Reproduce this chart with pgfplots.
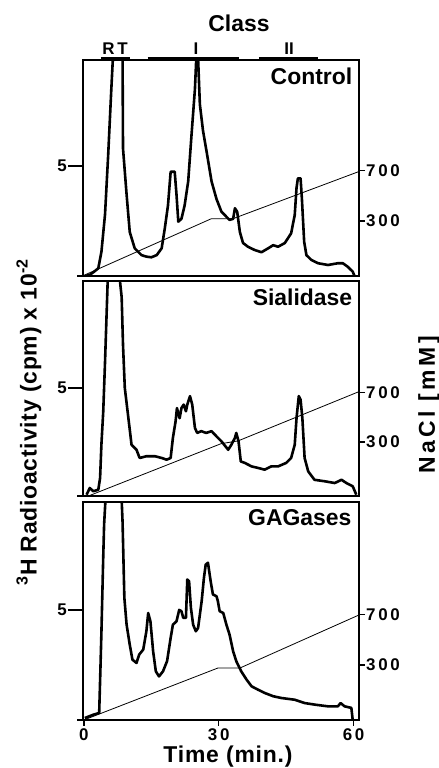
\documentclass[border=0pt]{standalone}
\usepackage{fontspec}
\setmainfont{Liberation Sans}
\newfontfamily\tickfam[LetterSpace=16]{Liberation Sans}
\newfontfamily\widefam[LetterSpace=15]{Liberation Sans}
\newfontfamily\looser[LetterSpace=3.5]{Liberation Sans}
\usepackage{pgfplots}
\pgfplotsset{compat=1.18}

\newcommand\lbl{\fontsize{23}{23}\selectfont\bfseries}
\newcommand\ticks{\tickfam\fontsize{17}{17}\selectfont\bfseries}

\pgfplotsset{
  base/.style={scale only axis, width=276bp, xmin=-0.2, xmax=61.2, ymin=0,
    axis line style={line width=1.2bp},
    tick style={line width=1.2bp, black},
    major tick length=6bp, tick align=outside,
    tick label style={font=\ticks, inner sep=1bp}},
  panel/.style={base, ytick pos=left, xtick pos=bottom,
    ytick={0}, yticklabels={}, xtick=\empty,
    extra y ticks={5}, extra y tick labels={5},
    extra y tick style={major tick length=15bp}},
  rpanel/.style={base, axis x line=none, axis y line*=right,
    ytick={2.5,4.78}, yticklabels={300,700}, clip=false},
  curve/.style={black, line width=2.6bp, line join=round, no marks},
  grad/.style={black, line width=0.8bp, no marks},
}

\begin{document}
\begin{tikzpicture}
\useasboundingbox (0,0) rectangle (439bp,768bp);

% ---- Control
\begin{axis}[panel, at={(83bp,492bp)}, height=216bp, ymax=9.82]
\addplot[curve] coordinates {
(0.3,0) (1.3,0.05) (2.3,0.2) (3.2,0.35) (3.9,1.1) (4.7,2.8) (5.4,5.5) (6.1,8.5)
(6.6,10.5) (7,13) (8.4,13) (8.6,10) (8.7,5.8) (9.5,3.7) (10.2,2.0) (11.3,1.26)
(12.8,0.95) (13.9,0.88) (15,0.85) (16.2,0.95) (17.3,1.26) (18,2.17) (18.7,3.2)
(19.3,4.74) (20.2,4.74) (20.6,3.7) (21.0,2.47) (21.7,2.6) (22.4,3.2) (23.2,4.3)
(23.9,6.3) (24.7,8.5) (25.0,9.9) (25.15,11) (25.4,9.9) (25.8,7.8) (26.5,6.6)
(27.3,5.65) (28.4,4.3) (29.5,3.5) (30.6,2.92) (32.4,2.55) (33.2,2.6) (33.6,3.08)
(34.1,2.92) (34.7,2.0) (35.4,1.5) (36.5,1.33) (38.0,1.18) (39.5,1.08) (41.0,1.26)
(42.1,1.4) (43.2,1.33) (44.7,1.5) (46.1,1.94) (46.9,2.77) (47.3,4.0) (47.6,4.44)
(48.2,4.44) (48.5,3.5) (49.0,1.56) (49.5,0.95) (50.6,0.73) (52.1,0.58) (54.3,0.5)
(56.5,0.58) (57.6,0.58) (58.7,0.42) (59.8,0.2) (60.2,0)
};
\addplot[grad] coordinates {(0,0.03) (28.3,2.6) (33.1,2.6) (61.2,4.75)};
\end{axis}
\begin{axis}[rpanel, at={(83bp,492bp)}, height=216bp, ymax=9.82]
\addplot[black, line width=4bp, no marks] coordinates {(3.8,9.87) (10.2,9.87)};
\addplot[black, line width=4bp, no marks] coordinates {(14.2,9.87) (34.4,9.87)};
\addplot[black, line width=4bp, no marks] coordinates {(38.9,9.87) (52.0,9.87)};
\node[anchor=east, font=\lbl] at (rel axis cs:0.988,0.926) {Control};
\end{axis}

% ---- Sialidase
\begin{axis}[panel, at={(83bp,272bp)}, height=215bp, ymax=9.95]
\addplot[curve] coordinates {
(0.6,0.06) (1.3,0.37) (2.1,0.22) (3.2,0.29) (3.6,0.83) (3.9,2.4) (4.3,3.9) (4.7,6.2)
(5.0,8.1) (5.3,10) (5.6,13) (7.8,13) (8.0,10) (8.4,9.2) (8.7,7.0) (9.1,5.0)
(9.9,3.6) (10.6,2.37) (11.7,2.14) (12.4,1.76) (13.9,1.84) (15.8,1.84) (17.3,1.76)
(18.4,1.68) (19.3,1.76) (19.8,2.69) (20.4,3.46) (20.7,4.07) (21.3,3.6) (21.7,4.07)
(22.2,4.23) (22.7,3.92) (23.0,4.23) (23.6,4.62) (24.1,4.23) (24.7,3.15) (25.2,2.92)
(26.1,3.0) (27.2,2.92) (28.4,3.0) (29.5,2.76) (30.6,2.53) (32.1,2.14) (32.8,2.37)
(33.6,2.69) (33.9,2.92) (34.4,2.53) (34.9,1.6) (35.8,1.53) (37.3,1.37) (38.7,1.3)
(40.2,1.22) (41.7,1.37) (43.2,1.37) (45.0,1.53) (46.1,1.76) (46.9,2.37) (47.3,3.6)
(47.8,4.62) (48.2,4.46) (48.6,3.6) (49.1,1.76) (49.9,1.14) (51.3,0.75) (53.6,0.68)
(55.8,0.6) (57.3,0.75) (58.4,0.6) (59.8,0.45) (60.6,0.06)
};
\addplot[grad] coordinates {(1,0) (30.5,2.42) (34.3,2.55) (61.2,4.83)};
\end{axis}
\begin{axis}[rpanel, at={(83bp,272bp)}, height=215bp, ymax=9.95]
\node[anchor=east, font=\lbl] at (rel axis cs:0.988,0.926) {Sialidase};
\end{axis}

% ---- GAGases
\begin{axis}[panel, at={(83bp,48bp)}, height=218bp, ymax=9.9,
  xtick={0,30,60}, xticklabels={0,30,60}, xticklabel style={yshift=-1bp}]
\addplot[curve] coordinates {
(0.2,0.09) (2.1,0.24) (3.4,0.32) (3.7,2.5) (3.9,4.0) (4.3,7.4) (4.5,8.9) (4.8,10)
(5.2,13) (8.2,13) (8.4,10) (8.6,9.0) (9.0,5.55) (9.5,4.33) (10.2,3.42) (10.8,2.74)
(11.7,2.59) (12.3,2.97) (13.2,3.2) (13.9,4.03) (14.3,4.86) (14.8,4.48) (15.4,3.12)
(16.0,2.21) (16.7,1.98) (17.6,2.21) (18.5,2.67) (19.3,3.73) (19.8,4.33) (20.6,4.48)
(21.2,5.0) (21.7,4.94) (22.1,4.64) (22.7,4.64) (23.0,6.38) (23.4,6.3) (23.8,5.1)
(24.3,4.33) (24.9,4.03) (25.4,4.18) (26.2,5.4) (26.7,6.45) (27.1,7.06) (27.6,7.14)
(28.2,6.3) (28.7,5.7) (29.5,5.62) (29.8,5.4) (30.2,4.94) (31.0,4.86) (31.7,4.33)
(32.4,3.88) (33.2,3.12) (33.9,2.67) (35.0,2.21) (36.2,1.83) (37.3,1.53) (38.7,1.38)
(40.2,1.23) (42.1,1.08) (43.9,1.0) (46.9,0.92) (49.1,0.77) (51.3,0.7) (54.3,0.62)
(56.5,0.62) (57.1,0.77) (58,0.62) (59.5,0.55) (59.8,0)
};
\addplot[grad] coordinates {(0,0) (29.8,2.36) (34.7,2.36) (61.2,4.77)};
\end{axis}
\begin{axis}[rpanel, at={(83bp,48bp)}, height=218bp, ymax=9.9]
\node[anchor=east, font=\lbl] at (rel axis cs:0.985,0.93) {GAGases};
\end{axis}

% ---- labels
\node[font=\lbl] at (239bp,745bp) {Class};
\node[font=\fontsize{17}{17}\selectfont\bfseries] at (115bp,719bp) {R\,T};
\node[font=\fontsize{17}{17}\selectfont\bfseries] at (196bp,719bp) {I};
\node[font=\fontsize{17}{17}\selectfont\bfseries] at (289bp,719bp) {II};
\node[font=\looser\lbl, rotate=90] at (29bp,346bp) {\textsuperscript{3}H Radioactivity (cpm) x 10\textsuperscript{-2}};
\node[font=\widefam\lbl, rotate=90] at (429bp,363bp) {NaCl [mM]};
\node[font=\looser\lbl] at (228bp,11bp) {Time (min.)};
\end{tikzpicture}
\end{document}
